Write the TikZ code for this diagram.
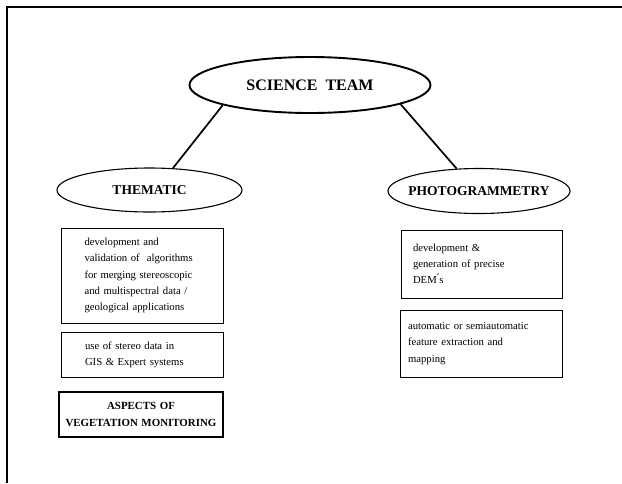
\documentclass[tikz,border=0pt]{standalone}
\usepackage{fontspec}
\setmainfont{Liberation Serif}
\usetikzlibrary{shapes.geometric}
\begin{document}
\begin{tikzpicture}
    [
    x=1pt,y=-1pt,
    team/.style={ellipse,draw,inner sep=0pt,line width=1.1pt,font=\bfseries\fontsize{13.5}{15}\selectfont},
    txtbox/.style={rectangle,draw,line width=0.9pt,inner ysep=0pt,align=left,font=\fontsize{10.7}{16.2}\selectfont},
    link/.style={line width=1.7pt}
    ]
    \useasboundingbox (0,0) rectangle (622,483);
    % frame
    \coordinate (fbl) at (7,483);
    \coordinate (ftl) at (7,7);
    \coordinate (ftr) at (622,7);
    \draw [line width=1.2pt] (fbl) -- (ftl) -- (ftr);
    \node (science) at (310,85) [team,line width=1.9pt,minimum width=241,minimum height=56,font=\bfseries\fontsize{16}{18}\selectfont] {SCIENCE\ \ TEAM};
    \node (thematic) at (149.5,190) [team,minimum width=185,minimum height=44] {THEMATIC};
    \node (photo) at (479,191) [team,inner xsep=-8pt,minimum width=182,minimum height=45] {PHOTOGRAMMETRY};
    \draw [link] (science.193) to (thematic.43);
    \draw [link] (science.348) to (photo.135);
    % thematic boxes
    \node (algo) at (142.5,275.5) [txtbox,text width=116,inner xsep=23,minimum height=95] {development and\\validation of\ \ algorithms\\for merging stereoscopic\\and multispectral data /\\geological applications};
    \node (gis) at (142,354.5) [txtbox,text width=114,inner xsep=24,minimum height=45] {use of stereo data in\\GIS \& Expert systems};
    \node (veg) at (141,414.5) [txtbox,line width=1.4pt,text width=156,inner xsep=4,minimum height=45,align=center,font=\bfseries\fontsize{10.9}{16.5}\selectfont] {ASPECTS OF\\VEGETATION MONITORING};
    % photogrammetry boxes
    \node (dem) at (481.5,264) [txtbox,text width=137,inner xsep=12,minimum height=68] {development \&\\generation of precise\\DEM\'{}s};
    \node (feat) at (481,343.5) [txtbox,text width=146,inner xsep=8,minimum height=67] {automatic or semiautomatic\\feature extraction and\\mapping};
\end{tikzpicture}
\end{document}
